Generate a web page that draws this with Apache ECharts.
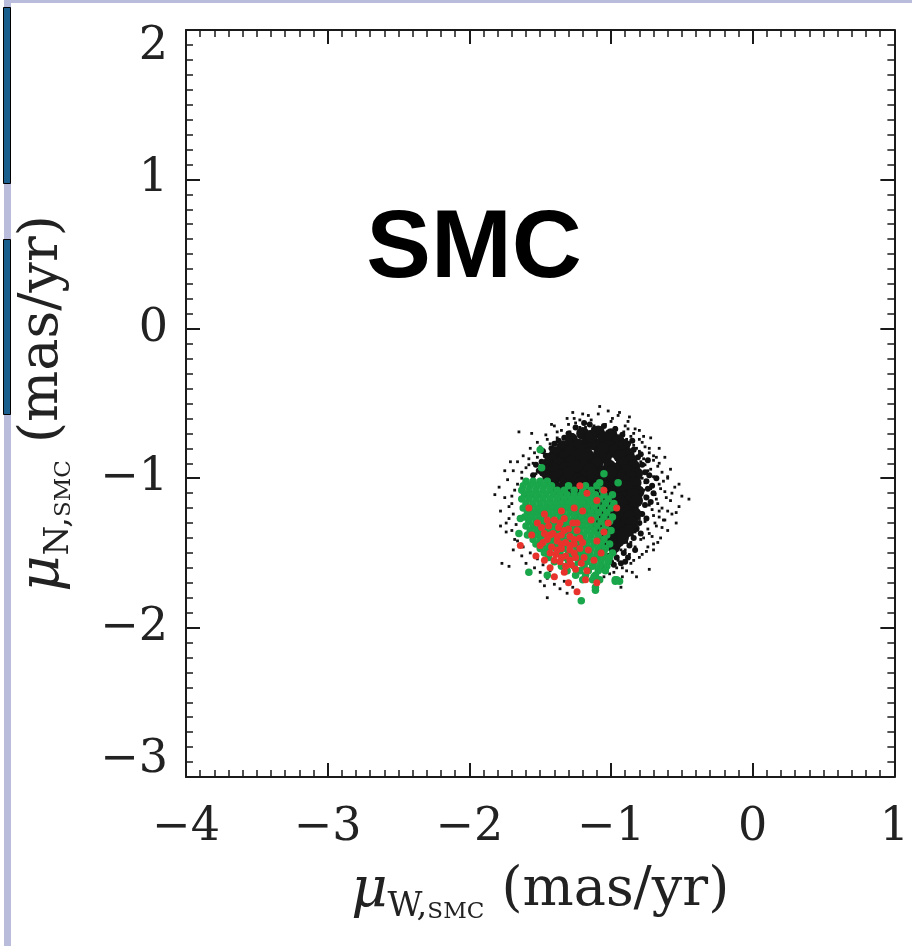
<!DOCTYPE html>
<html>
<head>
<meta charset="utf-8">
<script src="https://cdn.jsdelivr.net/npm/echarts@6/dist/echarts.min.js"></script>
<style>
html,body{margin:0;padding:0;background:#fff;}
#chart{width:912px;height:946px;}
</style>
</head>
<body>
<div id="chart"></div>
<script>
// ---- data ----
const xTicks = [-4, -3, -2, -1, 0, 1];
const yTicks = [-3, -2, -1, 0, 1, 2];
const panelLabel = 'SMC';

// black: all stars, dense core
const blackCore = [
[-1.20,-0.70],[-1.09,-0.69],[-1.00,-0.71],
[-1.28,-0.74],[-1.16,-0.75],[-1.05,-0.73],[-0.95,-0.75],
[-1.34,-0.79],[-1.23,-0.78],[-1.12,-0.77],[-1.01,-0.79],[-0.91,-0.78],
[-1.39,-0.83],[-1.29,-0.82],[-1.19,-0.81],[-1.08,-0.83],[-0.98,-0.82],[-0.88,-0.84],
[-1.42,-0.87],[-1.33,-0.86],[-1.24,-0.85],[-1.14,-0.87],[-1.04,-0.86],[-0.94,-0.85],[-0.86,-0.88],
[-1.45,-0.91],[-1.37,-0.90],[-1.28,-0.89],[-1.19,-0.91],[-1.10,-0.90],[-1.01,-0.92],[-0.92,-0.90],[-0.84,-0.92],
[-1.47,-0.95],[-1.40,-0.94],[-1.32,-0.93],[-1.23,-0.95],[-1.15,-0.94],[-1.06,-0.96],[-0.97,-0.94],[-0.89,-0.95],[-0.82,-0.97],
[-1.44,-0.99],[-1.36,-0.98],[-1.27,-0.97],[-1.19,-0.99],[-1.11,-0.98],[-1.02,-1.00],[-0.94,-0.98],[-0.86,-0.99],
[-1.41,-1.03],[-1.32,-1.02],[-1.24,-1.01],[-1.15,-1.03],[-1.07,-1.02],[-0.98,-1.04],[-0.90,-1.02],[-0.83,-1.03],
[-1.37,-1.07],[-1.28,-1.06],[-1.20,-1.05],[-1.11,-1.07],[-1.03,-1.06],[-0.95,-1.08],[-0.87,-1.06],[-0.81,-1.09],
[-1.33,-1.11],[-1.24,-1.10],[-1.16,-1.09],[-1.07,-1.11],[-0.99,-1.10],[-0.91,-1.12],[-0.84,-1.11],
[-1.29,-1.15],[-1.20,-1.14],[-1.12,-1.13],[-1.03,-1.15],[-0.95,-1.14],[-0.88,-1.16],[-0.82,-1.15],
[-1.25,-1.19],[-1.16,-1.18],[-1.08,-1.17],[-0.99,-1.19],[-0.92,-1.18],[-0.85,-1.20],
[-1.21,-1.23],[-1.12,-1.22],[-1.04,-1.21],[-0.96,-1.23],[-0.89,-1.22],[-0.83,-1.24],
[-1.17,-1.27],[-1.08,-1.26],[-1.00,-1.25],[-0.93,-1.27],[-0.87,-1.26],
[-1.12,-1.31],[-1.04,-1.30],[-0.97,-1.29],[-0.90,-1.31],[-0.85,-1.30],
[-1.08,-1.35],[-1.01,-1.34],[-0.94,-1.33],[-0.88,-1.35],
[-1.04,-1.39],[-0.97,-1.38],[-0.91,-1.37],
[-1.01,-1.43],[-0.95,-1.42],
[-0.98,-1.46],
[-1.14,-0.72],[-1.06,-0.80],[-1.17,-0.84],[-1.25,-0.92],[-1.13,-0.97],[-1.00,-0.96],[-1.21,-1.03],[-1.09,-1.04],
[-0.93,-1.05],[-1.18,-1.12],[-1.05,-1.13],[-0.93,-1.16],[-1.10,-1.20],[-0.98,-1.27],[-0.92,-1.40],[-1.30,-0.96]
];

// black: fuzzy edge of the core
const blackEdge = [
[-1.25,-0.66],[-1.15,-0.64],[-1.05,-0.65],[-0.97,-0.67],[-1.30,-0.70],[-0.92,-0.71],[-1.12,-0.67],[-1.19,-0.63],
[-1.37,-0.75],[-1.42,-0.80],[-1.46,-0.85],[-1.49,-0.89],[-1.51,-0.95],[-1.33,-0.73],[-1.40,-0.77],[-1.48,-0.82],
[-1.53,-0.91],[-1.55,-0.98],
[-0.88,-0.77],[-0.84,-0.81],[-0.81,-0.86],[-0.78,-0.91],[-0.76,-0.96],[-0.75,-1.02],[-0.74,-1.07],[-0.75,-1.13],
[-0.76,-1.18],[-0.78,-1.24],[-0.80,-1.30],[-0.82,-1.34],[-0.84,-1.40],[-0.87,-1.45],[-0.91,-1.50],[-0.96,-1.53],
[-0.85,-0.75],[-0.79,-0.84],[-0.73,-0.98],[-0.71,-1.05],[-0.72,-1.16],[-0.75,-1.27],[-0.79,-1.37],[-0.83,-1.48],
[-0.88,-1.53],[-0.93,-1.57],[-1.00,-1.56],[-0.70,-1.10],[-0.68,-1.00],[-0.74,-0.88],
[-1.02,-1.52],[-1.06,-1.47],[-0.98,-1.58],[-1.05,-1.60],[-0.90,-1.56]
];

// black: sparse outskirts
const blackHalo = [
[-1.08,-0.52],[-1.02,-0.55],[-1.20,-0.57],[-0.95,-0.58],[-1.31,-0.60],[-1.14,-0.61],[-0.88,-0.62],[-1.25,-0.63],
[-1.04,-0.64],[-1.40,-0.65],[-0.97,-0.66],[-1.18,-0.66],[-0.83,-0.67],[-1.35,-0.68],[-1.29,-0.69],[-0.91,-0.69],
[-1.46,-0.71],[-0.86,-0.72],[-1.38,-0.73],[-0.80,-0.74],[-1.52,-0.76],[-1.43,-0.77],[-0.84,-0.78],[-0.76,-0.79],
[-1.57,-0.80],[-1.48,-0.81],[-0.80,-0.82],[-0.73,-0.83],[-1.62,-0.85],[-1.52,-0.86],[-0.77,-0.87],[-0.70,-0.88],
[-1.66,-0.89],[-1.55,-0.90],[-0.76,-0.91],[-0.67,-0.92],[-1.60,-0.93],[-1.69,-0.95],[-0.74,-0.95],[-0.64,-0.96],
[-1.53,-0.97],[-0.70,-0.99],[-1.63,-1.00],[-1.73,-1.01],[-0.60,-1.00],[-1.50,-1.02],[-0.76,-1.03],[-0.66,-1.04],
[-1.58,-1.05],[-1.79,-1.06],[-0.55,-1.06],[-0.72,-1.07],[-1.68,-1.08],[-0.62,-1.09],[-1.82,-1.11],[-0.50,-1.12],
[-0.76,-1.12],[-1.75,-1.13],[-0.68,-1.14],[-0.45,-1.14],[-0.58,-1.15],[-1.70,-1.17],[-0.73,-1.18],[-0.52,-1.19],
[-0.64,-1.20],[-1.78,-1.22],[-0.79,-1.23],[-0.57,-1.24],[-0.70,-1.25],[-1.72,-1.27],[-0.62,-1.28],[-0.76,-1.29],
[-0.54,-1.30],[-1.67,-1.31],[-0.68,-1.32],[-0.81,-1.33],[-0.60,-1.35],[-1.74,-1.36],[-0.73,-1.37],[-0.85,-1.38],
[-0.65,-1.40],[-1.68,-1.41],[-0.79,-1.41],[-0.89,-1.43],[-0.70,-1.44],[-1.62,-1.46],[-0.83,-1.46],[-0.93,-1.48],
[-0.75,-1.49],[-1.57,-1.50],[-0.87,-1.51],[-1.00,-1.51],[-0.80,-1.53],[-1.52,-1.54],[-0.95,-1.55],[-1.06,-1.54],
[-0.86,-1.57],[-1.48,-1.58],[-1.02,-1.58],[-0.92,-1.60],[-1.43,-1.62],[-1.10,-1.61],[-0.98,-1.63],[-1.39,-1.66],
[-1.05,-1.66],[-1.33,-1.69],[-0.92,-1.66],[-1.47,-1.72],[-1.27,-1.73],[-1.45,-1.80],
[-1.65,-0.69],[-1.56,-0.70],[-1.71,-0.89],[-1.75,-0.95],[-1.78,-1.32],[-1.77,-1.57],[-1.72,-1.59],[-1.50,-1.69],
[-0.63,-1.28],[-0.54,-1.23],[-0.60,-0.99],[-0.68,-0.86],[-0.77,-0.72],[-0.94,-0.56],[-1.26,-0.60],[-1.42,-0.64],
[-0.70,-1.48],[-0.82,-1.66],[-0.73,-1.61],[-0.93,-1.73],
[-1.50,-0.92],[-1.47,-1.05],[-1.44,-0.84],[-1.36,-0.76],[-1.27,-0.71],[-0.89,-0.74],[-0.82,-0.80],[-0.79,-0.89],
[-0.78,-1.00],[-0.77,-1.08],[-0.79,-1.16],[-0.80,-1.27],[-0.83,-1.36],[-0.86,-1.43],[-0.90,-1.48],[-0.97,-1.50],
[-1.03,-1.48],[-1.12,-1.44],[-1.18,-1.36],[-0.72,-0.94],[-0.69,-1.11],[-0.66,-1.22],[-0.74,-1.34],[-0.88,-0.67],
[-1.00,-0.62],[-1.12,-0.65],[-1.22,-0.66],[-1.33,-0.72],[-1.58,-0.87],[-1.61,-1.02],[-0.71,-1.21],[-0.77,-1.40],
[-1.30,-0.64],[-1.22,-0.61],[-1.16,-0.58],[-0.99,-0.60],[-0.90,-0.65],[-0.84,-0.70],[-0.78,-0.76],[-0.73,-0.80],
[-0.70,-0.85],[-0.66,-0.90],[-0.63,-1.02],[-0.65,-1.07],[-0.61,-1.13],[-0.67,-1.17],[-0.60,-1.22],[-0.66,-1.26],
[-0.69,-1.30],[-0.64,-1.33],[-0.71,-1.39],[-0.67,-1.43],[-0.74,-1.46],[-0.78,-1.51],[-0.84,-1.55],[-0.89,-1.62],
[-0.96,-1.60],[-0.85,-1.63],[-1.01,-1.64],[-0.95,-1.69],[-1.38,-0.69],[-1.45,-0.74],[-1.50,-0.79],[-1.54,-0.83],
[-1.58,-0.91],[-1.63,-0.96],[-1.66,-1.04],[-1.70,-1.12],[-1.72,-1.19],[-1.69,-1.24],[-1.74,-1.30],[-1.70,-1.35],
[-1.66,-1.42],[-1.69,-1.48],[-1.63,-1.52],[-1.60,-1.57],[-1.54,-1.60],[-1.50,-1.63],[-1.45,-1.67],[-1.40,-1.71],
[-1.36,-1.74],[-1.31,-1.77],[-0.57,-1.10],[-0.52,-1.04],[-0.58,-0.94],[-0.62,-0.86],[-0.66,-0.80],[-0.72,-0.73],
[-0.80,-0.68],[-0.87,-0.59],[-1.09,-0.57],[-1.27,-0.56]
];

// green sample
const greenStars = [
[-1.60,-1.02],[-1.55,-1.02],[-1.50,-1.02],[-1.45,-1.02],
[-1.62,-1.05],[-1.57,-1.05],[-1.52,-1.05],[-1.47,-1.05],[-1.42,-1.05],[-1.30,-1.05],[-1.18,-1.05],[-1.10,-1.05],
[-1.63,-1.08],[-1.58,-1.08],[-1.53,-1.08],[-1.48,-1.08],[-1.43,-1.08],[-1.38,-1.08],[-1.33,-1.08],[-1.26,-1.08],[-1.20,-1.08],[-1.14,-1.08],[-1.06,-1.08],
[-1.61,-1.11],[-1.56,-1.11],[-1.51,-1.11],[-1.46,-1.11],[-1.41,-1.11],[-1.36,-1.11],[-1.31,-1.11],[-1.26,-1.11],[-1.21,-1.11],[-1.16,-1.11],[-1.11,-1.11],[-1.05,-1.11],[-0.99,-1.11],
[-1.63,-1.14],[-1.58,-1.14],[-1.53,-1.14],[-1.48,-1.14],[-1.43,-1.14],[-1.38,-1.14],[-1.33,-1.14],[-1.28,-1.14],[-1.23,-1.14],[-1.18,-1.14],[-1.13,-1.14],[-1.08,-1.14],[-1.02,-1.14],
[-1.60,-1.17],[-1.55,-1.17],[-1.50,-1.17],[-1.45,-1.17],[-1.40,-1.17],[-1.35,-1.17],[-1.30,-1.17],[-1.25,-1.17],[-1.20,-1.17],[-1.15,-1.17],[-1.10,-1.17],[-1.04,-1.17],[-0.98,-1.17],
[-1.62,-1.20],[-1.57,-1.20],[-1.52,-1.20],[-1.47,-1.20],[-1.42,-1.20],[-1.37,-1.20],[-1.32,-1.20],[-1.27,-1.20],[-1.22,-1.20],[-1.17,-1.20],[-1.12,-1.20],[-1.06,-1.20],[-1.00,-1.20],
[-1.59,-1.23],[-1.54,-1.23],[-1.49,-1.23],[-1.44,-1.23],[-1.39,-1.23],[-1.34,-1.23],[-1.29,-1.23],[-1.24,-1.23],[-1.19,-1.23],[-1.14,-1.23],[-1.09,-1.23],[-1.03,-1.23],
[-1.61,-1.26],[-1.56,-1.26],[-1.51,-1.26],[-1.46,-1.26],[-1.41,-1.26],[-1.36,-1.26],[-1.31,-1.26],[-1.26,-1.26],[-1.21,-1.26],[-1.16,-1.26],[-1.11,-1.26],[-1.05,-1.26],[-0.99,-1.26],
[-1.58,-1.29],[-1.53,-1.29],[-1.48,-1.29],[-1.43,-1.29],[-1.38,-1.29],[-1.33,-1.29],[-1.28,-1.29],[-1.23,-1.29],[-1.18,-1.29],[-1.13,-1.29],[-1.07,-1.29],[-1.01,-1.29],
[-1.60,-1.32],[-1.55,-1.32],[-1.50,-1.32],[-1.45,-1.32],[-1.40,-1.32],[-1.35,-1.32],[-1.30,-1.32],[-1.25,-1.32],[-1.20,-1.32],[-1.15,-1.32],[-1.10,-1.32],[-1.04,-1.32],
[-1.57,-1.35],[-1.52,-1.35],[-1.47,-1.35],[-1.42,-1.35],[-1.37,-1.35],[-1.32,-1.35],[-1.27,-1.35],[-1.22,-1.35],[-1.17,-1.35],[-1.12,-1.35],[-1.06,-1.35],[-1.00,-1.35],
[-1.59,-1.38],[-1.54,-1.38],[-1.49,-1.38],[-1.44,-1.38],[-1.39,-1.38],[-1.34,-1.38],[-1.29,-1.38],[-1.24,-1.38],[-1.19,-1.38],[-1.14,-1.38],[-1.09,-1.38],[-1.03,-1.38],
[-1.55,-1.41],[-1.50,-1.41],[-1.45,-1.41],[-1.40,-1.41],[-1.35,-1.41],[-1.30,-1.41],[-1.25,-1.41],[-1.20,-1.41],[-1.15,-1.41],[-1.10,-1.41],[-1.05,-1.41],
[-1.53,-1.44],[-1.48,-1.44],[-1.43,-1.44],[-1.38,-1.44],[-1.32,-1.44],[-1.27,-1.44],[-1.22,-1.44],[-1.17,-1.44],[-1.12,-1.44],[-1.07,-1.44],[-1.01,-1.44],
[-1.50,-1.47],[-1.45,-1.47],[-1.39,-1.47],[-1.34,-1.47],[-1.29,-1.47],[-1.24,-1.47],[-1.19,-1.47],[-1.14,-1.47],[-1.09,-1.47],[-1.04,-1.47],
[-1.47,-1.50],[-1.36,-1.50],[-1.30,-1.50],[-1.25,-1.50],[-1.20,-1.50],[-1.15,-1.50],[-1.10,-1.50],[-1.05,-1.50],[-0.99,-1.50],
[-1.44,-1.53],[-1.33,-1.53],[-1.27,-1.53],[-1.21,-1.53],[-1.16,-1.53],[-1.11,-1.53],[-1.06,-1.53],[-1.01,-1.53],
[-1.40,-1.56],[-1.30,-1.56],[-1.23,-1.56],[-1.17,-1.56],[-1.12,-1.56],[-1.07,-1.56],[-1.02,-1.56],
[-1.35,-1.59],[-1.26,-1.59],[-1.19,-1.59],[-1.13,-1.59],[-1.08,-1.59],[-1.03,-1.59],
[-1.31,-1.62],[-1.22,-1.62],[-1.16,-1.62],[-1.09,-1.62],[-1.04,-1.62],
[-1.45,-1.65],[-1.25,-1.65],[-1.18,-1.65],[-1.11,-1.65],
[-1.20,-1.68],[-1.13,-1.68],[-0.97,-1.68],
[-1.50,-0.81],[-1.49,-0.93],[-1.58,-1.63],[-1.21,-1.82],[-0.97,-1.69],[-0.94,-1.69],[-1.11,-1.75],[-1.65,-1.37],
[-1.64,-1.27],[-1.08,-1.03],[-0.95,-1.03],[-1.05,-0.97],[-1.12,-1.66],[-1.08,-1.68],[-0.96,-1.68],[-1.11,-1.73]
];

// red sample
const redStars = [
[-1.40,-1.28],[-1.33,-1.27],[-1.27,-1.30],[-1.44,-1.32],[-1.37,-1.33],[-1.30,-1.34],[-1.24,-1.35],[-1.47,-1.37],
[-1.41,-1.37],[-1.35,-1.38],[-1.29,-1.39],[-1.22,-1.40],[-1.45,-1.41],[-1.38,-1.42],[-1.32,-1.43],[-1.26,-1.44],
[-1.42,-1.46],[-1.35,-1.47],[-1.29,-1.48],[-1.22,-1.47],[-1.39,-1.51],[-1.32,-1.52],[-1.25,-1.53],[-1.36,-1.56],
[-1.28,-1.58],[-1.21,-1.57],
[-1.52,-1.30],[-1.56,-1.38],[-1.50,-1.45],[-1.64,-1.45],[-1.53,-1.52],[-1.47,-1.55],[-1.43,-1.60],[-1.33,-1.63],
[-1.24,-1.76],[-1.30,-1.70],[-1.10,-1.70],[-1.17,-1.62],[-1.12,-1.55],[-1.16,-1.48],[-1.10,-1.42],[-1.05,-1.36],
[-1.17,-1.10],[-0.96,-1.20],[-1.10,-1.15],[-1.20,-1.22],[-1.14,-1.28],[-1.26,-1.20],[-1.35,-1.22],[-1.47,-1.24],
[-1.58,-1.20],[-1.07,-1.50],[-1.02,-1.30],[-1.18,-1.68],[-1.40,-1.66],[-1.22,-1.05],[-1.05,-1.08],
[-1.45,-1.28],[-1.36,-1.30],[-1.49,-1.33],[-1.33,-1.35],[-1.43,-1.38],[-1.38,-1.39],
[-1.26,-1.41],[-1.48,-1.43],[-1.35,-1.44],[-1.29,-1.45],[-1.38,-1.48],
[-1.26,-1.50],[-1.43,-1.50],[-1.35,-1.53],[-1.29,-1.55],[-1.40,-1.55],[-1.32,-1.59],
[-1.25,-1.61],[-1.19,-1.53],[-1.20,-1.43],[-1.24,-1.30]
];

// ---- chart ----
const SERIF = '"DejaVu Serif", "Liberation Serif", serif';
const AX = '#1a1a1a';
const fmtNum = v => String(v).replace('-', '\u2212');

function tickAxisCommon(extra) {
  return Object.assign({
    type: 'value',
    interval: 1,
    axisLine: { show: true, onZero: false, lineStyle: { color: AX, width: 2 } },
    axisTick: { show: true, inside: true, length: 14, lineStyle: { color: AX, width: 2 } },
    minorTick: { show: true, splitNumber: 10, length: 7, lineStyle: { color: AX, width: 1.5 } },
    splitLine: { show: false },
    minorSplitLine: { show: false }
  }, extra);
}

const titleRich = {
  mu: { fontFamily: SERIF, fontStyle: 'italic', fontSize: 56, lineHeight: 66, color: '#222', verticalAlign: 'middle' },
  w: { fontFamily: SERIF, fontSize: 34, lineHeight: 34, color: '#222', verticalAlign: 'bottom' },
  sc: { fontFamily: SERIF, fontSize: 23, lineHeight: 28, color: '#222', verticalAlign: 'bottom' },
  t: { fontFamily: SERIF, fontSize: 54, lineHeight: 66, color: '#222', verticalAlign: 'middle' }
};

const chart = echarts.init(document.getElementById('chart'), null, { renderer: 'canvas' });
chart.setOption({
  animation: false,
  backgroundColor: '#ffffff',
  grid: { left: 186, right: 12, top: 30, bottom: 169, containLabel: false },
  xAxis: [
    tickAxisCommon({
      min: xTicks[0], max: xTicks[xTicks.length - 1], position: 'bottom',
      axisLabel: { show: true, margin: 28, fontFamily: SERIF, fontSize: 46, color: '#222', formatter: fmtNum },
      name: '{mu|\u03bc}{w|W,}{sc|SMC}{t| (mas/yr)}',
      nameLocation: 'middle', nameGap: 81,
      nameTextStyle: { rich: titleRich }
    }),
    tickAxisCommon({
      min: xTicks[0], max: xTicks[xTicks.length - 1], position: 'top',
      axisLabel: { show: false }
    })
  ],
  yAxis: [
    tickAxisCommon({
      min: yTicks[0], max: yTicks[yTicks.length - 1], position: 'left',
      axisLabel: {
        show: true, margin: 18, fontFamily: SERIF, fontSize: 46, color: '#222',
        formatter: function (v) {
          if (v === yTicks[yTicks.length - 1]) return '{dn|' + fmtNum(v) + '}';
          if (v === yTicks[0]) return '{up|' + fmtNum(v) + '}';
          return fmtNum(v);
        },
        rich: {
          dn: { fontFamily: SERIF, fontSize: 46, color: '#222', padding: [34, 0, 0, 0] },
          up: { fontFamily: SERIF, fontSize: 46, color: '#222', padding: [0, 0, 34, 0] }
        }
      },
      name: '{mu|\u03bc}{w|N,}{sc|SMC}{t| (mas/yr)}',
      nameLocation: 'middle', nameGap: 110, nameRotate: 90,
      nameTextStyle: { rich: titleRich }
    }),
    tickAxisCommon({
      min: yTicks[0], max: yTicks[yTicks.length - 1], position: 'right',
      axisLabel: { show: false }
    })
  ],
  series: [
    { type: 'scatter', name: 'all', data: blackHalo, symbol: 'rect', symbolSize: 2.8, itemStyle: { color: '#111', opacity: 1 }, silent: true, z: 2 },
    { type: 'scatter', name: 'edge', data: blackEdge, symbolSize: 6, itemStyle: { color: '#111', opacity: 1 }, silent: true, z: 2 },
    { type: 'scatter', name: 'core', data: blackCore, symbolSize: 13, itemStyle: { color: '#141414', opacity: 1 }, silent: true, z: 2 },
    { type: 'scatter', name: 'green', data: greenStars, symbolSize: 7.5, itemStyle: { color: '#1aa64a', opacity: 1 }, silent: true, z: 3 },
    { type: 'scatter', name: 'red', data: redStars, symbolSize: 7, itemStyle: { color: '#e8332c', opacity: 1 }, silent: true, z: 4 }
  ],
  graphic: [
    { type: 'text', z: 10, x: 474, y: 250, style: { text: panelLabel, fontFamily: '"Liberation Sans", Arial, sans-serif', fontWeight: 'bold', fontSize: 97, fill: '#000', align: 'center', verticalAlign: 'middle' } },
    { type: 'rect', z: 10, shape: { x: 10, y: 0, width: 902, height: 3 }, style: { fill: '#b9bddb' } },
    { type: 'rect', z: 10, shape: { x: 4, y: 0, width: 7, height: 946 }, style: { fill: '#b9bddb' } },
    { type: 'rect', z: 11, shape: { x: 3.5, y: 7.5, width: 7, height: 176 }, style: { fill: '#1a5e8e', stroke: '#000', lineWidth: 1 } },
    { type: 'rect', z: 11, shape: { x: 3.5, y: 239.5, width: 7, height: 175 }, style: { fill: '#1a5e8e', stroke: '#000', lineWidth: 1 } }
  ]
});
</script>
</body>
</html>
